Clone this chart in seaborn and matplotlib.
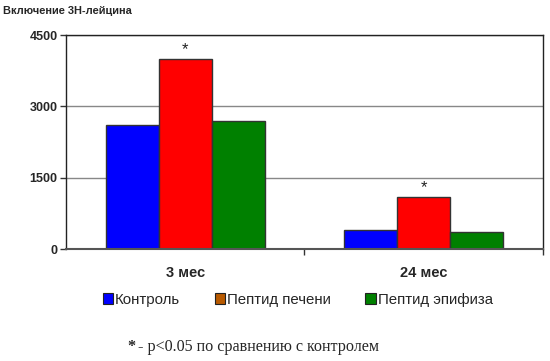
import pandas as pd
import seaborn as sns
import matplotlib.pyplot as plt
from matplotlib.patches import Patch

# data
periods = ["3 мес", "24 мес"]
groups = ["Контроль", "Пептид печени", "Пептид эпифиза"]
control = [2600, 400]
liver = [4000, 1100]
pineal = [2700, 350]
significant = [False, True, False]  # asterisk over "Пептид печени"

bar_colors = ["#0000FF", "#FF0000", "#008000"]
legend_colors = ["#0000FF", "#B85A00", "#008000"]

df = pd.DataFrame({
    "period": periods * 3,
    "group": [g for g in groups for _ in periods],
    "value": control + liver + pineal,
})

sns.set_style("white")
plt.rcParams["font.family"] = ["Liberation Sans", "DejaVu Sans"]

fig = plt.figure(figsize=(5.5, 3.61), dpi=100)
ax = fig.add_axes([0.12, 0.31, 0.867, 0.593])

sns.barplot(data=df, x="period", y="value", hue="group", hue_order=groups,
            order=periods, palette=bar_colors, width=0.667, edgecolor="#333333",
            linewidth=1, saturation=1, legend=False, ax=ax)

# asterisks over significant bars
for container, sig in zip(ax.containers, significant):
    if sig:
        for bar in container:
            ax.annotate("*", (bar.get_x() + bar.get_width() / 2, bar.get_height()),
                        xytext=(0, 1), textcoords="offset points", ha="center", va="bottom",
                        fontsize=12, color="#222222")

ax.set_ylim(0, 4500)
ax.set_xlim(-0.5, 1.5)
ax.set_yticks([0, 1500, 3000, 4500])
ax.set_yticklabels(["0", "1500", "3000", "4500"], fontweight="bold", fontsize=9)
ax.set_xticks([0, 1])
ax.set_xticklabels(periods, fontweight="bold", fontsize=10.5)
ax.tick_params(axis="x", length=0, pad=12)
ax.tick_params(axis="y", length=4, width=1, color="#333333", direction="out", left=True, pad=2)
ax.set_xticks([0.5, 1.5], minor=True)
ax.tick_params(axis="x", which="minor", length=4, width=1, color="#333333", direction="out", bottom=True)
ax.yaxis.grid(True, color="#888888", linewidth=1)
ax.set_axisbelow(True)
ax.set_xlabel("")
ax.set_ylabel("")
for side in ["left", "right", "top"]:
    ax.spines[side].set_visible(True)
    ax.spines[side].set_color("#222222")
    ax.spines[side].set_linewidth(1)
ax.spines["bottom"].set_color("#555555")
ax.spines["bottom"].set_linewidth(1.5)

fig.text(0.006, 0.97, "Включение 3Н-лейцина", fontsize=7.9, fontweight="bold", va="center", ha="left")

handles = [Patch(facecolor=c, edgecolor="#222222", linewidth=0.8) for c in legend_colors]
fig.legend(handles, groups, loc="center", bbox_to_anchor=(0.541, 0.169), ncol=3, frameon=False,
           fontsize=10.8, handlelength=0.7, handleheight=0.7, handletextpad=0.12, columnspacing=2.3)

serif = ["Liberation Serif", "DejaVu Serif"]
fig.text(0.232, 0.039, "*", fontsize=11.6, fontweight="bold", family=serif, ha="left", va="center")
fig.text(0.251, 0.039, "- p<0.05 по сравнению с контролем", fontsize=11.6,
         family=serif, ha="left", va="center")

fig.savefig("out.png", dpi=100)
